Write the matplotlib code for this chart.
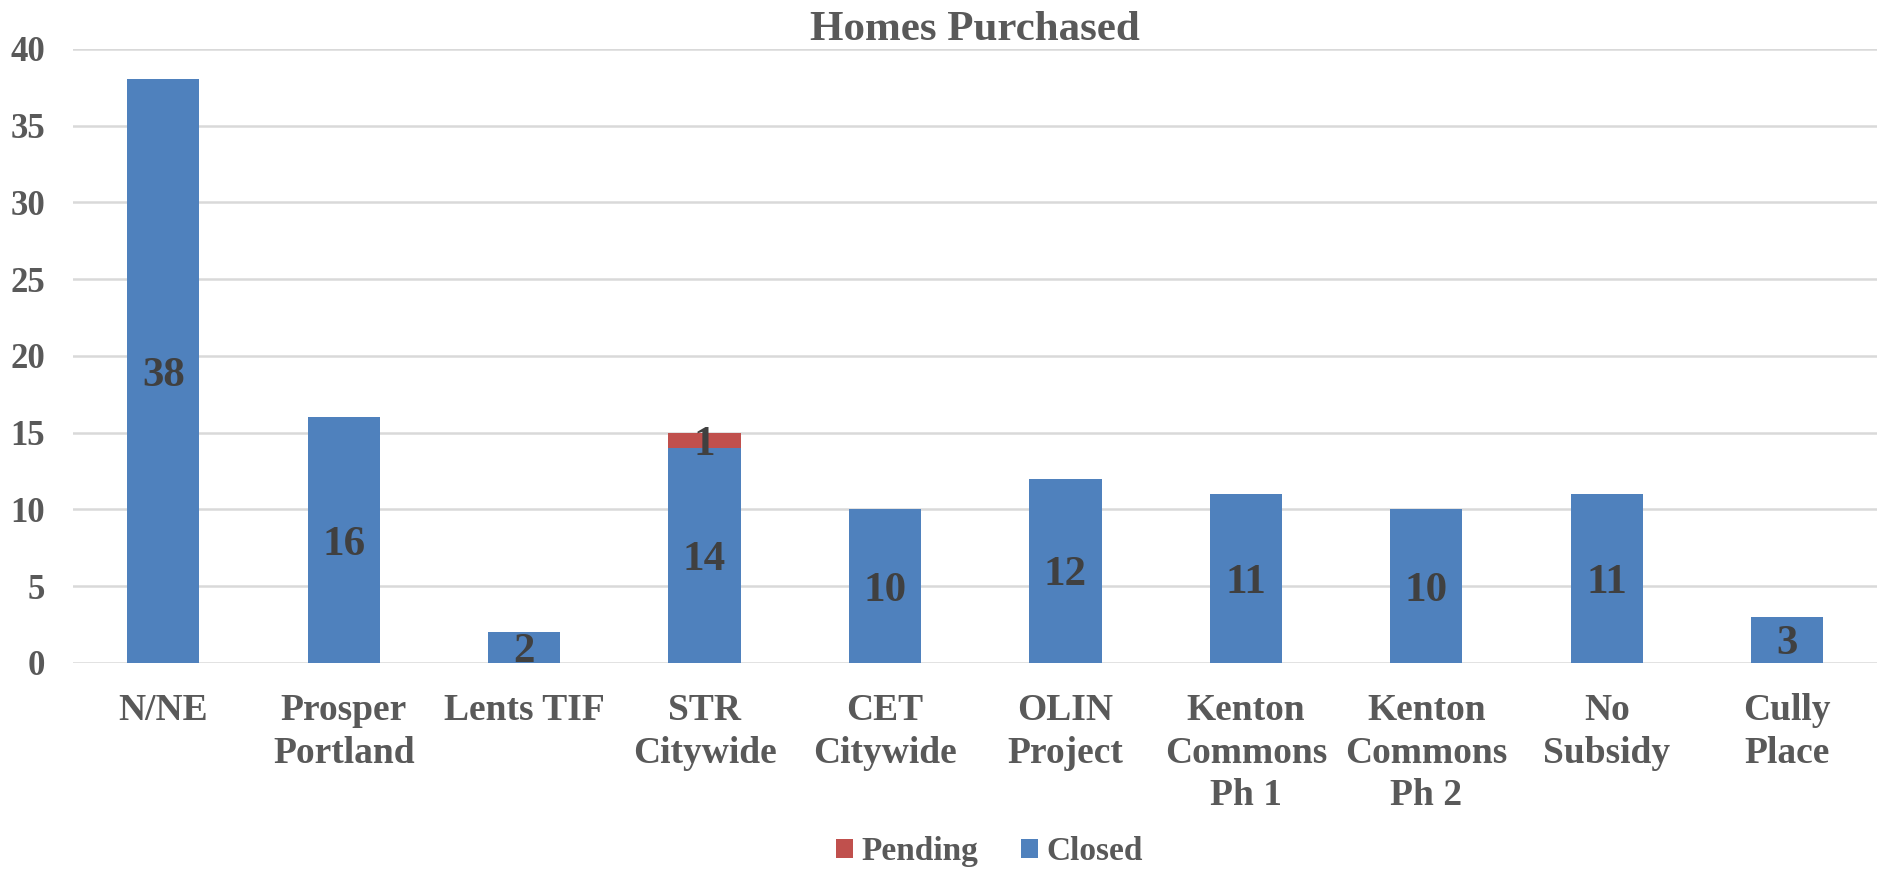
import matplotlib
matplotlib.use("Agg")
import matplotlib.pyplot as plt
import numpy as np

# data
categories = ["N/NE", "Prosper\nPortland", "Lents TIF", "STR\nCitywide", "CET\nCitywide",
              "OLIN\nProject", "Kenton\nCommons\nPh 1", "Kenton\nCommons\nPh 2", "No\nSubsidy", "Cully\nPlace"]
closed = [38, 16, 2, 14, 10, 12, 11, 10, 11, 3]
pending = [0, 0, 0, 1, 0, 0, 0, 0, 0, 0]

plt.rcParams["font.family"] = ["Liberation Serif", "DejaVu Serif"]
plt.rcParams["font.weight"] = "bold"

BLUE = "#4F81BD"
RED = "#C0504D"
GREY = "#595959"

fig = plt.figure(figsize=(18.83, 8.71), dpi=100)
ax = fig.add_axes([0.0388, 0.239, 0.9582, 0.705])

x = np.arange(len(categories))
b1 = ax.bar(x, closed, width=0.4, color=BLUE, label="Closed", zorder=3)
b2 = ax.bar(x, pending, width=0.4, bottom=closed, color=RED, label="Pending", zorder=3)

# data labels in the middle of each segment
for i in range(len(x)):
    ax.text(x[i], closed[i] / 2, str(closed[i]), ha="center", va="center_baseline",
            fontsize=31, fontweight="bold", color="#404040", zorder=4)
    if pending[i] > 0:
        ax.text(x[i], closed[i] + pending[i] / 2, str(pending[i]), ha="center", va="center_baseline",
                fontsize=31, fontweight="bold", color="#404040", zorder=4)

ax.set_xlim(-0.5, len(categories) - 0.5)
ax.set_ylim(0, 40)
ax.set_yticks(range(0, 41, 5))
ax.yaxis.grid(True, color="#D9D9D9", linewidth=1.8, zorder=0)
ax.set_axisbelow(True)
for s in ax.spines.values():
    s.set_visible(False)

ax.set_xticks(x)
ax.set_xticklabels(categories, fontsize=27, fontweight="bold", color=GREY, va="top", linespacing=1.27)
ax.tick_params(axis="x", length=0, pad=22)
ax.tick_params(axis="y", length=0, pad=20, labelsize=25, labelcolor=GREY)

ax.set_title("Homes Purchased", fontsize=31, fontweight="bold", color=GREY, pad=5)

handles = [b2, b1]
leg = fig.legend(handles, ["Pending", "Closed"], loc="lower center", bbox_to_anchor=(0.5255, -0.03),
                 ncol=2, frameon=False, fontsize=24, handlelength=0.5, handleheight=0.5,
                 handletextpad=0.25, columnspacing=1.3)
for t in leg.get_texts():
    t.set_color(GREY)

fig.savefig("out.png", dpi=100)
